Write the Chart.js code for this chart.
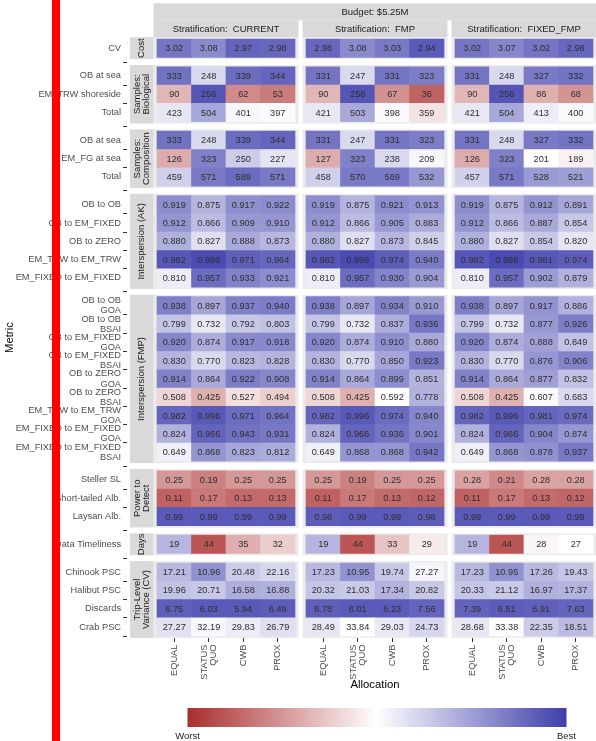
<!DOCTYPE html>
<html>
<head>
<meta charset="utf-8">
<script src="https://cdn.jsdelivr.net/npm/chart.js@4.4.1/dist/chart.umd.min.js"></script>
<style>
  html, body { margin: 0; padding: 0; background: #ffffff; }
  canvas { display: block; }
</style>
</head>
<body>
<canvas id="chart" width="596" height="741"></canvas>
<script>
// ---- data -------------------------------------------------------------
const budgetLabel = 'Budget: $5.25M';
const stratifications = ['CURRENT', 'FMP', 'FIXED_FMP'];
const allocations = ['EQUAL', ['STATUS', 'QUO'], 'CWB', 'PROX'];

const groupLabels = [
  ['Cost'], ['Samples:', 'Biological'], ['Samples:', 'Composition'],
  ['Interspersion (AK)'], ['Interspersion (FMP)'], ['Power to', 'Detect'],
  ['Days'], ['Trip-Level', 'Variance (CV)']
];
const groupSizes = [1, 3, 3, 5, 9, 3, 1, 4];

const metricLabels = [
  'CV',
  'OB at sea', 'EM_TRW shoreside', 'Total',
  'OB at sea', 'EM_FG at sea', 'Total',
  'OB to OB', 'OB to EM_FIXED', 'OB to ZERO', 'EM_TRW to EM_TRW', 'EM_FIXED to EM_FIXED',
  ['OB to OB', 'GOA'], ['OB to OB', 'BSAI'], ['OB to EM_FIXED', 'GOA'], ['OB to EM_FIXED', 'BSAI'],
  ['OB to ZERO', 'GOA'], ['OB to ZERO', 'BSAI'], ['EM_TRW to EM_TRW', 'GOA'],
  ['EM_FIXED to EM_FIXED', 'GOA'], ['EM_FIXED to EM_FIXED', 'BSAI'],
  'Steller SL', 'Short-tailed Alb.', 'Laysan Alb.',
  'Data Timeliness',
  'Chinook PSC', 'Halibut PSC', 'Discards', 'Crab PSC'
];
const digits = [2, 0,0,0, 0,0,0, 3,3,3,3,3, 3,3,3,3,3,3,3,3,3, 2,2,2, 0, 2,2,2,2];

const valuesCurrent = [
  [3.02, 3.08, 2.97, 2.98],
  [333, 248, 339, 344], [90, 256, 62, 53], [423, 504, 401, 397],
  [333, 248, 339, 344], [126, 323, 250, 227], [459, 571, 589, 571],
  [0.919, 0.875, 0.917, 0.922], [0.912, 0.866, 0.909, 0.910], [0.880, 0.827, 0.888, 0.873],
  [0.982, 0.996, 0.971, 0.964], [0.810, 0.957, 0.933, 0.921],
  [0.938, 0.897, 0.937, 0.940], [0.799, 0.732, 0.792, 0.803], [0.920, 0.874, 0.917, 0.918],
  [0.830, 0.770, 0.823, 0.828], [0.914, 0.864, 0.922, 0.908], [0.508, 0.425, 0.527, 0.494],
  [0.982, 0.996, 0.971, 0.964], [0.824, 0.966, 0.943, 0.931], [0.649, 0.868, 0.823, 0.812],
  [0.25, 0.19, 0.25, 0.25], [0.11, 0.17, 0.13, 0.13], [0.99, 0.99, 0.99, 0.99],
  [19, 44, 35, 32],
  [17.21, 10.96, 20.48, 22.16], [19.96, 20.71, 16.58, 16.88], [6.75, 6.03, 5.94, 6.49], [27.27, 32.19, 29.83, 26.79]
];
const valuesFMP = [
  [2.98, 3.08, 3.03, 2.94],
  [331, 247, 331, 323], [90, 256, 67, 36], [421, 503, 398, 359],
  [331, 247, 331, 323], [127, 323, 238, 209], [458, 570, 569, 532],
  [0.919, 0.875, 0.921, 0.913], [0.912, 0.866, 0.905, 0.883], [0.880, 0.827, 0.873, 0.845],
  [0.982, 0.996, 0.974, 0.940], [0.810, 0.957, 0.930, 0.904],
  [0.938, 0.897, 0.934, 0.910], [0.799, 0.732, 0.837, 0.936], [0.920, 0.874, 0.910, 0.880],
  [0.830, 0.770, 0.850, 0.923], [0.914, 0.864, 0.899, 0.851], [0.508, 0.425, 0.592, 0.778],
  [0.982, 0.996, 0.974, 0.940], [0.824, 0.966, 0.936, 0.901], [0.649, 0.868, 0.868, 0.942],
  [0.25, 0.19, 0.25, 0.25], [0.11, 0.17, 0.13, 0.12], [0.98, 0.99, 0.99, 0.98],
  [19, 44, 33, 29],
  [17.23, 10.95, 19.74, 27.27], [20.32, 21.03, 17.34, 20.82], [6.78, 6.01, 6.23, 7.56], [28.49, 33.84, 29.03, 24.73]
];
const valuesFixedFMP = [
  [3.02, 3.07, 3.02, 2.98],
  [331, 248, 327, 332], [90, 256, 86, 68], [421, 504, 413, 400],
  [331, 248, 327, 332], [126, 323, 201, 189], [457, 571, 528, 521],
  [0.919, 0.875, 0.912, 0.891], [0.912, 0.866, 0.887, 0.854], [0.880, 0.827, 0.854, 0.820],
  [0.982, 0.996, 0.981, 0.974], [0.810, 0.957, 0.902, 0.879],
  [0.938, 0.897, 0.917, 0.886], [0.799, 0.732, 0.877, 0.926], [0.920, 0.874, 0.888, 0.849],
  [0.830, 0.770, 0.876, 0.906], [0.914, 0.864, 0.877, 0.832], [0.508, 0.425, 0.607, 0.683],
  [0.982, 0.996, 0.981, 0.974], [0.824, 0.966, 0.904, 0.874], [0.649, 0.868, 0.878, 0.937],
  [0.28, 0.21, 0.28, 0.28], [0.11, 0.17, 0.13, 0.12], [0.99, 0.99, 0.99, 0.99],
  [19, 44, 28, 27],
  [17.23, 10.95, 17.26, 19.43], [20.33, 21.12, 16.97, 17.37], [7.39, 6.51, 6.91, 7.63], [28.68, 33.38, 22.35, 18.51]
];

// colour scale per metric: which direction is better, the value shown white,
// and how far from it a value reaches the full Worst / Best colour
const higherIsBetter = [false, true,true,true, true,true,true, true,true,true,true,true,
  true,true,true,true,true,true,true,true,true, true,true,true, false, false,false,false,false];
const neutralValue = [3.42, 216, 137, 392, 216, 201, 397,
  0.79, 0.79, 0.79, 0.79, 0.79,
  0.805, 0.69, 0.776, 0.709, 0.752, 0.595, 0.79, 0.681, 0.612,
  0.52, 0.52, 0.52, 27, 29, 30, 30, 34];
const fullSpan = [0.56, 160, 135, 245, 160, 187, 250,
  0.22, 0.22, 0.22, 0.22, 0.22,
  0.2, 0.35, 0.23, 0.306, 0.25, 0.45, 0.24, 0.355, 0.465,
  0.55, 0.55, 0.55, 21, 32, 32, 28, 44];

// ---- look & layout ----------------------------------------------------
const FONT = "'Liberation Sans', Arial, Helvetica, sans-serif";
const WORST_RGB = [170, 45, 45];
const BEST_RGB = [62, 62, 172];
const ROW_PX = 18.3;          // height of one tile
const COL_PX = 34.5;          // width of one tile
const GROUP_GAP = 0.519;      // gap between metric groups, in rows
const PANEL_GAP = 0.3188;     // gap between stratification panels, in columns
const PAD_X = 0.1, PAD_Y = 0.1;
const FIRST_TILE_LEFT = 157, FIRST_TILE_TOP = 39;
const Y_AXIS_W = 127, CANVAS_W = 596, CANVAS_H = 741;
const STRIP_W = 23.5;

function scoreColor(s) {
  s = Math.max(-1, Math.min(1, s));
  const end = s < 0 ? WORST_RGB : BEST_RGB;
  const t = Math.abs(s);
  const c = end.map(v => Math.round(255 + (v - 255) * t));
  return `rgb(${c[0]},${c[1]},${c[2]})`;
}
function tileColor(r, v) {
  const dir = higherIsBetter[r] ? 1 : -1;
  return scoreColor(dir * (v - neutralValue[r]) / fullSpan[r]);
}

// row centres (in row units) with gaps between groups
const rowCenter = [];
const groupExtent = [];
let cursor = 0;
groupSizes.forEach(n => {
  const start = cursor;
  for (let i = 0; i < n; i++) rowCenter.push(cursor + i + 0.5);
  cursor += n;
  groupExtent.push([start, cursor]);
  cursor += GROUP_GAP;
});
const rowsEnd = cursor - GROUP_GAP;
const nCols = allocations.length;
const panelStart = stratifications.map((s, p) => p * (nCols + PANEL_GAP));
const colCenters = panelStart.flatMap(ps => allocations.map((a, c) => ps + c + 0.5));

const PLOT_TOP = FIRST_TILE_TOP - PAD_Y * ROW_PX;
const PLOT_BOTTOM = PLOT_TOP + (rowsEnd + 2 * PAD_Y) * ROW_PX;
const X_MIN = -(FIRST_TILE_LEFT - Y_AXIS_W) / COL_PX;
const X_MAX = X_MIN + (CANVAS_W - Y_AXIS_W) / COL_PX;

const seriesByStrat = [valuesCurrent, valuesFMP, valuesFixedFMP];
const datasets = seriesByStrat.map((rows, p) => ({
  label: stratifications[p],
  data: rows.flatMap((vals, r) => vals.map((v, c) => ({
    y: rowCenter[r], x: [panelStart[p] + c, panelStart[p] + c + 1], v, r
  }))),
  backgroundColor: ctx => ctx.raw ? tileColor(ctx.raw.r, ctx.raw.v) : '#fff',
  borderWidth: 0,
  barThickness: ROW_PX,
  grouped: false
}));

function rotatedLines(ctx, lines, cx, cy, lh, align) {
  ctx.save();
  ctx.translate(cx, cy);
  ctx.rotate(-Math.PI / 2);
  ctx.textAlign = align;
  ctx.textBaseline = 'middle';
  lines.forEach((ln, i) => ctx.fillText(ln, 0, (i - (lines.length - 1) / 2) * lh));
  ctx.restore();
}

const decorations = {
  id: 'decorations',
  beforeDatasetsDraw(chart) {
    const { ctx } = chart;
    const x = chart.scales.x, y = chart.scales.y;
    const panelLeft = ps => x.getPixelForValue(ps - PAD_X);
    const panelRight = ps => x.getPixelForValue(ps + nCols + PAD_X);
    ctx.save();
    // panel backgrounds
    ctx.fillStyle = '#EBEBEB';
    groupExtent.forEach(([a, b]) => {
      const top = y.getPixelForValue(a - PAD_Y), bot = y.getPixelForValue(b + PAD_Y);
      panelStart.forEach(ps => ctx.fillRect(panelLeft(ps), top, panelRight(ps) - panelLeft(ps), bot - top));
    });
    // metric group strips on the left
    const stripR = panelLeft(panelStart[0]);
    groupExtent.forEach(([a, b], g) => {
      const top = y.getPixelForValue(a - PAD_Y), bot = y.getPixelForValue(b + PAD_Y);
      ctx.fillStyle = '#D9D9D9';
      ctx.fillRect(stripR - STRIP_W, top, STRIP_W, bot - top);
      ctx.save();
      ctx.beginPath();
      ctx.rect(stripR - STRIP_W, top, STRIP_W, bot - top);
      ctx.clip();
      ctx.fillStyle = '#1A1A1A';
      ctx.font = `9.5px ${FONT}`;
      rotatedLines(ctx, groupLabels[g], stripR - STRIP_W / 2, (top + bot) / 2, 9, 'center');
      ctx.restore();
    });
    // stratification and budget strips on top
    const stratTop = 20.3, budgetTop = 3.3;
    ctx.font = `9.5px ${FONT}`;
    ctx.textAlign = 'center';
    ctx.textBaseline = 'middle';
    panelStart.forEach((ps, p) => {
      const l = panelLeft(ps), r = panelRight(ps);
      ctx.fillStyle = '#D9D9D9';
      ctx.fillRect(l, stratTop, r - l, PLOT_TOP - stratTop);
      ctx.fillStyle = '#1A1A1A';
      ctx.fillText('Stratification:  ' + stratifications[p], (l + r) / 2, (stratTop + PLOT_TOP) / 2 + 0.5);
    });
    const bl = panelLeft(panelStart[0]), br = panelRight(panelStart[panelStart.length - 1]);
    ctx.fillStyle = '#D9D9D9';
    ctx.fillRect(bl, budgetTop, br - bl, stratTop - budgetTop);
    ctx.fillStyle = '#1A1A1A';
    ctx.fillText(budgetLabel, (bl + br) / 2, (budgetTop + stratTop) / 2 + 0.5);
    ctx.restore();
  },
  afterDatasetsDraw(chart) {
    const { ctx } = chart;
    ctx.save();
    ctx.font = `9.2px ${FONT}`;
    ctx.fillStyle = '#2E2E2E';
    ctx.textAlign = 'center';
    ctx.textBaseline = 'middle';
    chart.data.datasets.forEach((ds, di) => {
      chart.getDatasetMeta(di).data.forEach((bar, i) => {
        const raw = ds.data[i];
        const pt = bar.getCenterPoint();
        ctx.fillText(raw.v.toFixed(digits[raw.r]), pt.x, pt.y + 0.5);
      });
    });
    ctx.restore();
  },
  afterDraw(chart) {
    const { ctx, chartArea } = chart;
    const x = chart.scales.x;
    ctx.save();
    // allocation labels under each panel
    ctx.fillStyle = '#4D4D4D';
    ctx.font = `9.3px ${FONT}`;
    x.ticks.forEach((t, i) => {
      const lab = allocations[i % nCols];
      const lines = Array.isArray(lab) ? lab : [lab];
      rotatedLines(ctx, lines, x.getPixelForValue(t.value), chartArea.bottom + 6.5, 9, 'right');
    });
    // x axis title
    const pl = x.getPixelForValue(panelStart[0] - PAD_X);
    const pr = x.getPixelForValue(panelStart[panelStart.length - 1] + nCols + PAD_X);
    const mid = (pl + pr) / 2;
    ctx.fillStyle = '#000000';
    ctx.font = `11.3px ${FONT}`;
    ctx.textAlign = 'center';
    ctx.textBaseline = 'middle';
    ctx.fillText('Allocation', mid, 685);
    // colour bar legend
    const lw = 379, lx = mid - lw / 2 + 2, ly = 708, lh = 19;
    const grad = ctx.createLinearGradient(lx, 0, lx + lw, 0);
    for (let k = 0; k <= 40; k++) grad.addColorStop(k / 40, scoreColor(-1 + k / 20));
    ctx.fillStyle = grad;
    ctx.fillRect(lx, ly, lw, lh);
    ctx.fillStyle = '#1A1A1A';
    ctx.font = `9.5px ${FONT}`;
    ctx.fillText('Worst', lx, 736);
    ctx.fillText('Best', lx + lw, 736);
    // red marker bar
    ctx.fillStyle = '#FF0000';
    ctx.fillRect(52, 0, 8, CANVAS_H);
    ctx.restore();
  }
};

new Chart(document.getElementById('chart'), {
  type: 'bar',
  data: { datasets },
  options: {
    indexAxis: 'y',
    responsive: false,
    animation: false,
    devicePixelRatio: 1,
    layout: { padding: { top: PLOT_TOP, left: 0, right: 0, bottom: 0 } },
    plugins: { legend: { display: false }, tooltip: { enabled: false } },
    scales: {
      x: {
        type: 'linear', position: 'bottom', min: X_MIN, max: X_MAX, offset: false, bounds: 'data',
        afterBuildTicks: s => { s.ticks = colCenters.map(v => ({ value: v })); },
        afterFit: s => { s.height = CANVAS_H - PLOT_BOTTOM; },
        ticks: { display: false, autoSkip: false },
        grid: { drawOnChartArea: false, drawTicks: true, tickLength: 4, color: '#333333', tickColor: '#333333', tickWidth: 1 },
        border: { display: false }
      },
      y: {
        type: 'linear', position: 'left', reverse: true, min: -PAD_Y, max: rowsEnd + PAD_Y, offset: false, bounds: 'data',
        afterBuildTicks: s => { s.ticks = rowCenter.map(v => ({ value: v })); },
        afterFit: s => { s.width = Y_AXIS_W; },
        ticks: {
          autoSkip: false, padding: 2, color: '#4D4D4D',
          font: { family: FONT, size: 9.25, lineHeight: 1.1 },
          callback: (val, i) => metricLabels[i]
        },
        grid: { drawOnChartArea: false, drawTicks: true, tickLength: 4, color: '#333333', tickColor: '#333333', tickWidth: 1 },
        border: { display: false },
        title: {
          display: true, text: 'Metric', color: '#000000',
          font: { family: FONT, size: 11.3 }, padding: { top: 3, bottom: 0 }
        }
      }
    }
  },
  plugins: [decorations]
});
</script>
</body>
</html>
